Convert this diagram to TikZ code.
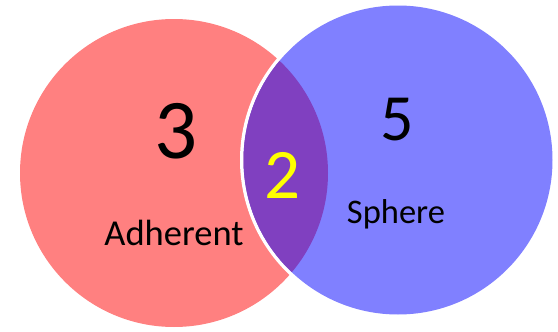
\documentclass[tikz,border=0pt]{standalone}
\usepackage{fontspec}
\setmainfont{Carlito}
\definecolor{redc}{RGB}{255,128,128}
\definecolor{bluec}{RGB}{128,128,255}
\definecolor{purplec}{RGB}{128,64,192}
\definecolor{yellowc}{RGB}{255,255,0}
\begin{document}
\begin{tikzpicture}[x=1pt,y=-1pt,
  lbl/.style={anchor=base,inner sep=0pt,text=black}]
\useasboundingbox (0,0) rectangle (558,332);
% red circle
\fill[redc] (174,173) circle[radius=154];
% white ring around blue circle
\draw[white,line width=3.5pt] (398,160) circle[radius=156.25];
% blue circle
\fill[bluec] (398,160) circle[radius=154.5];
% intersection lens
\begin{scope}
  \clip (174,173) circle[radius=154];
  \fill[purplec] (398,160) circle[radius=154.5];
\end{scope}
\node[lbl,font=\fontsize{85}{85}\selectfont] (n3) at (176,158) {3};
\node[lbl,font=\fontsize{66}{66}\selectfont] (n5) at (397,140) {5};
\node[lbl,font=\fontsize{71}{71}\selectfont,text=yellowc] (n2) at (282,198) {2};
\node[lbl,font=\fontsize{36.5}{36.5}\selectfont] (adh) at (174,245) {Adherent};
\node[lbl,font=\fontsize{34.5}{34.5}\selectfont] (sph) at (396,223) {Sphere};
\end{tikzpicture}
\end{document}
